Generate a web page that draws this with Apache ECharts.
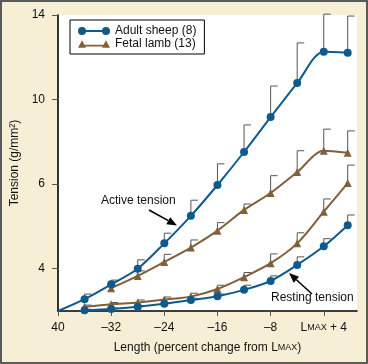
<!DOCTYPE html>
<html><head><meta charset="utf-8">
<script src="https://cdn.jsdelivr.net/npm/echarts@6/dist/echarts.min.js"></script>
<style>html,body{margin:0;padding:0;background:#f7eed6}#c{width:368px;height:364px}</style>
</head><body><div id="c"></div><script>
// Length (percent change from Lmax) for each measurement
const lengths = [-36, -32, -28, -24, -20, -16, -12, -8, -4, 0, 3.6];
const fetalActiveLengths = [-32, -28, -24, -20, -16, -12, -8, -4, 0, 3.6];
// Tension (g/mm^2)
const adultActiveStart = [-40, 3.0];
const adultActive = [3.28, 3.63, 4.0, 4.60, 5.25, 5.98, 7.52, 9.17, 10.78, 12.26, 12.21];
const adultActiveUpper = [3.40, 3.73, 4.21, 4.84, 5.62, 6.96, 8.80, 10.64, 12.68, 14.04, 13.95];
const fetalActive = [3.54, 3.83, 4.16, 4.50, 4.90, 5.39, 5.79, 6.57, 7.58, 7.48];
const fetalActiveUpper = [3.61, 3.95, 4.34, 4.68, 5.09, 5.53, 6.40, 7.58, 8.60, 8.52];
const adultResting = [3.02, 3.05, 3.10, 3.17, 3.26, 3.35, 3.50, 3.71, 4.09, 4.53, 5.03];
const adultRestingUpper = [3.04, 3.07, 3.13, 3.20, 3.30, 3.40, 3.61, 3.83, 4.28, 4.71, 5.27];
const fetalResting = [3.10, 3.16, 3.20, 3.27, 3.34, 3.52, 3.80, 4.13, 4.60, 5.35, 6.05];
const fetalRestingUpper = [3.14, 3.20, 3.26, 3.33, 3.42, 3.61, 3.91, 4.35, 4.85, 5.65, 6.90];
// Axis ticks (the y scale is drawn with evenly spaced ticks 4, 6, 10, 14)
const yTickValues = [4, 6, 10, 14];
const yTickLabels = ['4', '6', '10', '14'];
const yBottomValue = 3;
const xTickValues = [-40, -32, -24, -16, -8, 0];
const xTickLabels = ['40', '\u201332', '\u201324', '\u201316', '\u20138', '{a|L}{b|MAX} + 4'];
const seriesNames = ['Adult sheep (8)', 'Fetal lamb (13)'];

const BLUE = '#0f5a8d', BROWN = '#80603b', FONT = '"Liberation Sans", Arial, sans-serif';

function toAxis(t) {
  const v = yTickValues;
  if (t <= v[0]) return 1 - (v[0] - t) / (v[1] - v[0]);
  for (let i = 0; i < v.length - 1; i++) {
    if (t <= v[i + 1]) return i + 1 + (t - v[i]) / (v[i + 1] - v[i]);
  }
  const n = v.length;
  return n + (t - v[n - 1]) / (v[n - 1] - v[n - 2]);
}
const pts = (xs, ys) => xs.map((x, i) => [x, toAxis(ys[i])]);
const errs = (xs, ys, up) => xs.map((x, i) => [x, toAxis(ys[i]), toAxis(up[i])]);

function errRender(params, api) {
  const p = api.coord([api.value(0), api.value(1)]);
  const t = api.coord([api.value(0), api.value(2)]);
  return { type: 'group', children: [
    { type: 'line', shape: { x1: p[0], y1: p[1], x2: t[0], y2: t[1] }, style: { stroke: '#555', lineWidth: 1 } },
    { type: 'line', shape: { x1: t[0], y1: t[1], x2: t[0] + 7, y2: t[1] }, style: { stroke: '#555', lineWidth: 1 } }
  ]};
}
function errSeries(name, data) {
  return { name, type: 'custom', renderItem: errRender, data, encode: { x: 0, y: [1, 2] }, z: 1, silent: true };
}
function arrow(x1, y1, x2, y2) {
  const a = Math.atan2(y2 - y1, x2 - x1), L = 10, W = 4;
  const bx = x2 - L * Math.cos(a), by = y2 - L * Math.sin(a);
  const px = -Math.sin(a) * W, py = Math.cos(a) * W;
  return { type: 'group', children: [
    { type: 'line', shape: { x1, y1, x2: bx, y2: by }, style: { stroke: '#000', lineWidth: 1.6 } },
    { type: 'polygon', shape: { points: [[x2, y2], [bx + px, by + py], [bx - px, by - py]] }, style: { fill: '#000' } }
  ]};
}

const circIcon = 'path://M0,4 A4,4 0 1 1 8,4 A4,4 0 1 1 0,4 Z M24,4 A4,4 0 1 1 32,4 A4,4 0 1 1 24,4 Z M4,3.1 L28,3.1 L28,4.9 L4,4.9 Z';
const triIcon = 'path://M0,8 L4,0.5 L8,8 Z M24,8 L28,0.5 L32,8 Z M4,5 L28,5 L28,6.8 L4,6.8 Z';

const chart = echarts.init(document.getElementById('c'));
chart.setOption({
  backgroundColor: '#f7eed6',
  animation: false,
  textStyle: { fontFamily: FONT },
  grid: { left: 58, right: 11, top: 15, bottom: 53, show: true, backgroundColor: '#fff', borderWidth: 0 },
  legend: {
    left: 70, top: 20, orient: 'vertical', itemWidth: 32, itemHeight: 8, itemGap: 1,
    padding: [5, 8, 4, 8], borderColor: '#000', borderWidth: 1, backgroundColor: '#fff',
    textStyle: { fontSize: 12, color: '#111', fontFamily: FONT },
    data: [{ name: seriesNames[0], icon: circIcon }, { name: seriesNames[1], icon: triIcon }]
  },
  xAxis: {
    type: 'value', min: -40, max: 5,
    name: 'Length (percent change from {a|L}{b|MAX})', nameLocation: 'middle', nameGap: 31,
    nameTextStyle: { fontSize: 12, color: '#111', fontFamily: FONT, rich: { a: { fontSize: 12, color: '#111' }, b: { fontSize: 9, color: '#111' } } },
    axisLine: { onZero: false, lineStyle: { color: '#000', width: 1.6 } },
    axisTick: { show: true, length: 5, lineStyle: { color: '#555' }, customValues: xTickValues },
    axisLabel: { customValues: xTickValues, margin: 11, fontSize: 12, color: '#111', fontFamily: FONT,
      formatter: v => xTickLabels[xTickValues.indexOf(v)],
      rich: { a: { fontSize: 12, color: '#111' }, b: { fontSize: 9, color: '#111' } } },
    splitLine: { show: false }
  },
  yAxis: {
    type: 'value', min: toAxis(yBottomValue), max: toAxis(yTickValues[yTickValues.length - 1]),
    name: 'Tension (g/mm\u00b2)', nameLocation: 'middle', nameGap: 36,
    nameTextStyle: { fontSize: 12, color: '#111', fontFamily: FONT },
    axisLine: { show: true, onZero: false, lineStyle: { color: '#000', width: 1.6 } },
    axisTick: { show: true, length: 6, lineStyle: { color: '#555' }, customValues: yTickValues.map(toAxis) },
    axisLabel: { customValues: yTickValues.map(toAxis), margin: 13, fontSize: 12, color: '#111', fontFamily: FONT,
      formatter: v => yTickLabels[Math.round(v) - 1] },
    splitLine: { show: false }
  },
  series: [
    errSeries('eAA', errs(lengths, adultActive, adultActiveUpper)),
    errSeries('eFA', errs(fetalActiveLengths, fetalActive, fetalActiveUpper)),
    errSeries('eAR', errs(lengths, adultResting, adultRestingUpper)),
    errSeries('eFR', errs(lengths, fetalResting, fetalRestingUpper)),
    { name: seriesNames[1], type: 'line', smooth: 0.3, symbol: 'triangle', symbolSize: 8, z: 3,
      data: pts(fetalActiveLengths, fetalActive), itemStyle: { color: BROWN }, lineStyle: { color: BROWN, width: 2 } },
    { name: seriesNames[1], type: 'line', smooth: 0.3, symbol: 'triangle', symbolSize: 8, z: 3,
      data: pts(lengths, fetalResting), itemStyle: { color: BROWN }, lineStyle: { color: BROWN, width: 2 } },
    { name: seriesNames[0], type: 'line', smooth: 0.3, symbol: 'circle', symbolSize: 8, z: 4,
      data: [{ value: [adultActiveStart[0], toAxis(adultActiveStart[1])], symbol: 'none' }].concat(pts(lengths, adultActive)),
      itemStyle: { color: BLUE }, lineStyle: { color: BLUE, width: 2 } },
    { name: seriesNames[0], type: 'line', smooth: 0.3, symbol: 'circle', symbolSize: 8, z: 4,
      data: pts(lengths, adultResting), itemStyle: { color: BLUE }, lineStyle: { color: BLUE, width: 2 } }
  ],
  graphic: [
    { type: 'text', left: 101, top: 195, style: { text: 'Active tension', fontSize: 12, fill: '#111', fontFamily: FONT } },
    arrow(149, 210, 177, 225.5),
    { type: 'text', left: 271, top: 292, style: { text: 'Resting tension', fontSize: 12, fill: '#111', fontFamily: FONT } },
    arrow(312, 294, 289, 273),
    { type: 'rect', shape: { x: 1, y: 1, width: 366, height: 362 }, style: { fill: 'none', stroke: '#5a5a5a', lineWidth: 2 }, z: 100 }
  ]
});
</script></body></html>
